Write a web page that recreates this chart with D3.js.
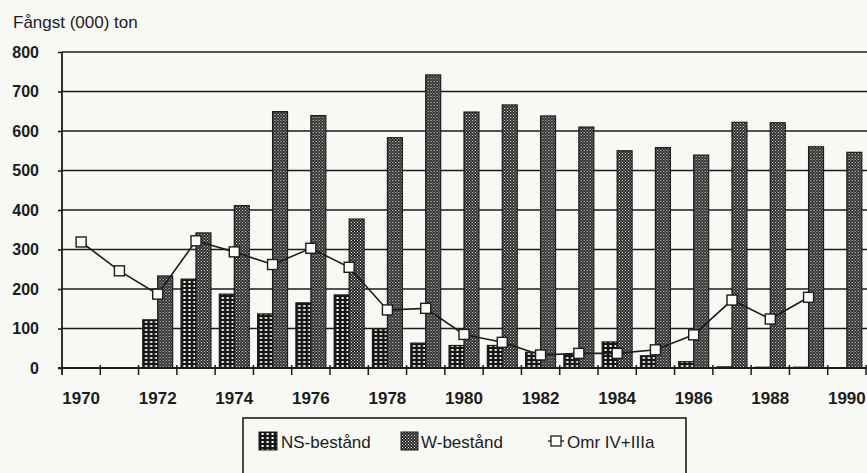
<!DOCTYPE html>
<html>
<head>
<meta charset="utf-8">
<script src="https://cdn.jsdelivr.net/npm/d3@7/dist/d3.min.js"></script>
<style>
    body { margin: 0; background: #f8f8f5; }
    svg { display: block; font-family: "Liberation Sans", Arial, sans-serif; }
</style>
</head>
<body>
<div class="chart"></div>
<script>
// data, (000) ton
const years = d3.range(1970, 1991)
const nsValues = [null, null, 122, 225, 187, 137, 165, 185, 99, 63, 57, 57, 40, 35, 66, 31, 16, 3, 2, 2, null]
const wValues = [null, null, 233, 342, 411, 649, 639, 377, 583, 742, 648, 666, 638, 610, 550, 558, 539, 622, 621, 560, 546]
const omrValues = [319, 246, 187, 322, 294, 262, 303, 255, 147, 151, 85, 65, 33, 37, 37, 46, 84, 172, 124, 179, null]
const yTicks = [0, 100, 200, 300, 400, 500, 600, 700, 800]
const xLabels = [1970, 1972, 1974, 1976, 1978, 1980, 1982, 1984, 1986, 1988, 1990]
const seriesNames = ['NS-bestånd', 'W-bestånd', 'Omr IV+IIIa']

const W = 867, H = 473
const ink = '#1c1c1c'

const svg = d3.select('.chart')
    .append('svg')
    .attr('width', W)
    .attr('height', H)

// fill patterns for the two bar series
const defs = svg.append('defs')
const pNs = defs.append('pattern')
    .attr('id', 'pat-ns')
    .attr('patternUnits', 'userSpaceOnUse')
    .attr('width', 5).attr('height', 4)
pNs.append('rect').attr('width', 5).attr('height', 4).attr('fill', '#161616')
pNs.append('rect').attr('x', 1.5).attr('y', 1).attr('width', 2.2).attr('height', 2).attr('fill', '#f4f4f0')

const pW = defs.append('pattern')
    .attr('id', 'pat-w')
    .attr('patternUnits', 'userSpaceOnUse')
    .attr('width', 3).attr('height', 3)
pW.append('rect').attr('width', 3).attr('height', 3).attr('fill', '#262626')
pW.append('rect').attr('x', 0).attr('y', 0).attr('width', 1).attr('height', 1).attr('fill', '#e8e8e4')
pW.append('rect').attr('x', 1.5).attr('y', 1.5).attr('width', 1).attr('height', 1).attr('fill', '#e8e8e4')

// scales
const x0 = d3.scaleBand()
    .domain(years)
    .range([62, 866])
    .padding(0)

const x1 = d3.scaleBand()
    .domain(['ns', 'w'])
    .range([0, x0.bandwidth()])
    .paddingOuter(0.28)

const y = d3.scaleLinear()
    .domain([0, 800])
    .range([368, 52])

// title
svg.append('text')
    .attr('x', 13)
    .attr('y', 28)
    .attr('font-size', '17px')
    .attr('fill', ink)
    .text('Fångst (000) ton')

// horizontal grid lines
svg.append('g')
    .selectAll('line')
    .data(yTicks.filter(d => d > 0))
    .enter()
    .append('line')
    .attr('x1', 62).attr('x2', W)
    .attr('y1', d => y(d)).attr('y2', d => y(d))
    .attr('stroke', ink)
    .attr('stroke-width', 1.6)

// y axis
const yAxis = svg.append('g')
    .attr('transform', 'translate(62,0)')
    .call(d3.axisLeft(y).tickValues(yTicks).tickSize(4).tickPadding(19))
yAxis.select('.domain').remove()
yAxis.selectAll('line').attr('stroke', ink).attr('stroke-width', 1.6)
yAxis.selectAll('text')
    .attr('font-size', '16px')
    .attr('font-weight', 'bold')
    .attr('fill', ink)
    .attr('font-family', '"Liberation Sans", Arial, sans-serif')

svg.append('line')
    .attr('x1', 62).attr('x2', 62)
    .attr('y1', y(800)).attr('y2', y(0) + 7)
    .attr('stroke', ink)
    .attr('stroke-width', 1.8)

// bars
const groups = svg.selectAll('g.year')
    .data(years)
    .enter()
    .append('g')
    .attr('class', 'year')
    .attr('transform', d => `translate(${x0(d)},0)`)

groups.append('rect')
    .filter((d, i) => nsValues[i] != null)
    .attr('x', x1('ns'))
    .attr('y', d => y(nsValues[years.indexOf(d)]))
    .attr('width', x1.bandwidth())
    .attr('height', d => y(0) - y(nsValues[years.indexOf(d)]))
    .attr('fill', 'url(#pat-ns)')
    .attr('stroke', ink)
    .attr('stroke-width', 1.2)

groups.append('rect')
    .filter((d, i) => wValues[i] != null)
    .attr('x', x1('w'))
    .attr('y', d => y(wValues[years.indexOf(d)]))
    .attr('width', x1.bandwidth())
    .attr('height', d => y(0) - y(wValues[years.indexOf(d)]))
    .attr('fill', 'url(#pat-w)')
    .attr('stroke', ink)
    .attr('stroke-width', 1.2)

// x axis: baseline, ticks on the band edges, every second year labelled
svg.append('line')
    .attr('x1', 58).attr('x2', W)
    .attr('y1', y(0)).attr('y2', y(0))
    .attr('stroke', ink)
    .attr('stroke-width', 1.8)

const edges = years.map(d => x0(d)).concat([x0.range()[1]])
svg.append('g')
    .selectAll('line')
    .data(edges.slice(1))
    .enter()
    .append('line')
    .attr('x1', d => d).attr('x2', d => d)
    .attr('y1', y(0) - 3).attr('y2', y(0) + 7)
    .attr('stroke', ink)
    .attr('stroke-width', 1.5)

svg.append('g')
    .selectAll('text')
    .data(xLabels)
    .enter()
    .append('text')
    .attr('x', d => x0(d) + x0.bandwidth() / 2)
    .attr('y', 404)
    .attr('text-anchor', 'middle')
    .attr('font-size', '17px')
    .attr('font-weight', 'bold')
    .attr('fill', ink)
    .text(d => d)

// line series with square markers
const pts = years.map((d, i) => [d, omrValues[i]]).filter(d => d[1] != null)
const cx = d => x0(d[0]) + x0.bandwidth() / 2
const line = d3.line().x(cx).y(d => y(d[1]))

svg.append('path')
    .datum(pts)
    .attr('d', line)
    .attr('fill', 'none')
    .attr('stroke', ink)
    .attr('stroke-width', 1.6)

svg.append('g')
    .selectAll('rect')
    .data(pts)
    .enter()
    .append('rect')
    .attr('x', d => cx(d) - 5)
    .attr('y', d => y(d[1]) - 5)
    .attr('width', 10)
    .attr('height', 10)
    .attr('fill', '#fbfbf8')
    .attr('stroke', ink)
    .attr('stroke-width', 1.4)

// legend
const legend = svg.append('g')
legend.append('rect')
    .attr('x', 243).attr('y', 418)
    .attr('width', 443).attr('height', 80)
    .attr('fill', 'none')
    .attr('stroke', ink)
    .attr('stroke-width', 1.6)

legend.append('rect')
    .attr('x', 259).attr('y', 432).attr('width', 18).attr('height', 18)
    .attr('fill', 'url(#pat-ns)').attr('stroke', ink)
legend.append('rect')
    .attr('x', 401).attr('y', 432).attr('width', 17).attr('height', 18)
    .attr('fill', 'url(#pat-w)').attr('stroke', ink)
legend.append('line')
    .attr('x1', 548).attr('x2', 564).attr('y1', 441).attr('y2', 441)
    .attr('stroke', ink).attr('stroke-width', 1.4)
legend.append('rect')
    .attr('x', 551).attr('y', 436).attr('width', 10).attr('height', 10)
    .attr('fill', '#fbfbf8').attr('stroke', ink).attr('stroke-width', 1.3)

legend.selectAll('text.lbl')
    .data(seriesNames)
    .enter()
    .append('text')
    .attr('class', 'lbl')
    .attr('x', (d, i) => [281, 421, 567][i])
    .attr('y', 448)
    .attr('font-size', '17px')
    .attr('fill', ink)
    .text(d => d)
</script>
</body>
</html>
